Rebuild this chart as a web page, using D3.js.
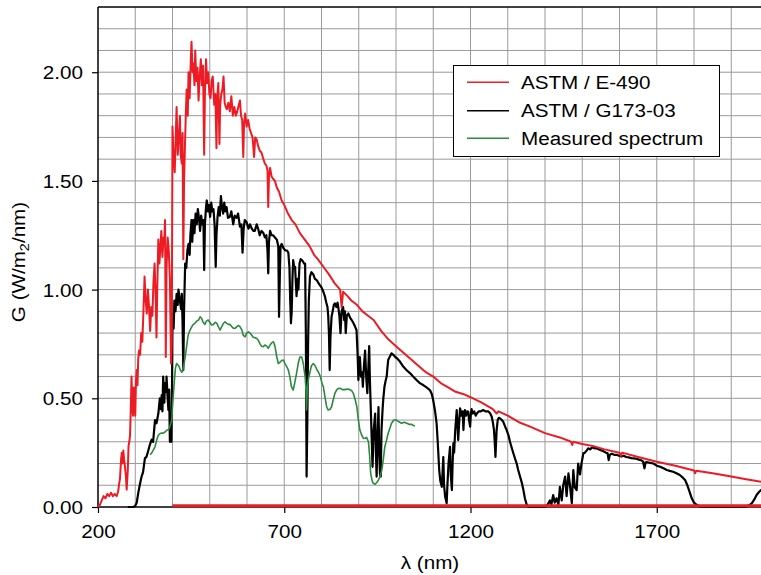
<!DOCTYPE html>
<html><head><meta charset="utf-8">
<script src="https://cdn.jsdelivr.net/npm/d3@7"></script>
<style>html,body{margin:0;padding:0;background:#fff;}svg{display:block;}</style>
</head><body>
<svg id="chart" width="761" height="575"></svg>
<script>
// ---- data (wavelength nm, irradiance W/m2/nm) ----
const xTicks = [200, 700, 1200, 1700];
const yTicks = [0, 0.5, 1.0, 1.5, 2.0];
const seriesNames = ["ASTM / E-490", "ASTM / G173-03", "Measured spectrum"];

const e490 = [[200,0.00],[205,0.01],[210,0.03],[215,0.05],[220,0.04],[225,0.06],[230,0.05],[235,0.065],[240,0.05],[245,0.06],[250,0.05],[254,0.07],[257,0.11],[259,0.13],[262,0.22],[264,0.25],[266,0.20],[268,0.26],[270,0.22],[272,0.19],[275,0.14],[277,0.08],[280,0.17],[282,0.28],[284,0.30],[286,0.33],[288,0.45],[290,0.60],[292,0.46],[294,0.42],[296,0.55],[298,0.50],[300,0.42],[302,0.58],[304,0.63],[306,0.56],[308,0.68],[310,0.72],[313,0.70],[316,0.80],[319,0.76],[322,0.90],[325,1.06],[328,0.95],[331,0.89],[334,1.00],[337,0.92],[340,0.81],[343,0.92],[346,0.88],[349,1.04],[352,1.12],[355,0.95],[357,0.78],[359,1.00],[362,1.23],[365,1.12],[367,1.18],[370,1.27],[373,1.15],[376,1.24],[378,1.22],[380,1.32],[382,0.69],[384,1.10],[387,1.24],[390,1.18],[393,1.05],[396,0.66],[398,0.75],[400,1.75],[403,1.60],[406,1.54],[409,1.72],[411,1.84],[414,1.62],[417,1.70],[420,1.80],[422,1.62],[425,1.58],[427,1.72],[429,1.14],[431,1.50],[434,1.70],[436,1.82],[438,1.92],[441,1.80],[443,2.00],[446,1.88],[449,2.05],[451,2.14],[454,2.00],[456,2.04],[459,1.94],[461,2.10],[464,1.96],[467,2.02],[470,1.87],[473,1.98],[476,2.06],[479,1.94],[482,2.03],[485,1.62],[487,1.90],[490,2.06],[493,1.95],[496,2.00],[499,1.90],[502,1.88],[505,1.96],[508,1.98],[512,1.85],[515,1.90],[518,1.65],[520,1.88],[523,1.95],[526,1.67],[528,1.85],[531,1.90],[534,1.92],[537,1.98],[540,1.86],[543,1.84],[546,1.83],[550,1.86],[554,1.82],[558,1.89],[562,1.80],[566,1.84],[570,1.80],[574,1.82],[578,1.85],[581,1.87],[584,1.80],[587,1.78],[590,1.61],[592,1.76],[595,1.81],[599,1.75],[603,1.78],[607,1.74],[611,1.72],[615,1.70],[619,1.61],[622,1.70],[626,1.69],[630,1.66],[634,1.64],[639,1.63],[644,1.60],[648,1.58],[652,1.57],[655,1.55],[657,1.38],[659,1.52],[662,1.56],[666,1.52],[670,1.51],[675,1.50],[680,1.47],[686,1.45],[693,1.41],[700,1.39],[710,1.35],[720,1.32],[730,1.30],[742,1.26],[755,1.23],[768,1.20],[780,1.16],[790,1.14],[805,1.105],[820,1.07],[835,1.03],[850,1.00],[854,0.92],[858,0.99],[870,0.97],[880,0.95],[895,0.93],[910,0.90],[925,0.88],[940,0.86],[960,0.81],[980,0.77],[1000,0.74],[1020,0.71],[1040,0.68],[1060,0.65],[1080,0.62],[1100,0.60],[1120,0.57],[1140,0.55],[1160,0.53],[1180,0.52],[1200,0.505],[1230,0.48],[1260,0.45],[1270,0.43],[1275,0.44],[1300,0.42],[1330,0.39],[1360,0.37],[1400,0.34],[1440,0.32],[1470,0.30],[1473,0.285],[1476,0.30],[1500,0.29],[1530,0.28],[1560,0.265],[1600,0.25],[1604,0.235],[1607,0.25],[1650,0.23],[1700,0.208],[1750,0.19],[1800,0.168],[1803,0.155],[1806,0.167],[1850,0.155],[1900,0.14],[1940,0.128],[1960,0.122],[1980,0.116],[2000,0.11]];

const e490Zero = [[400,0],[2000,0]];

const g173 = [[280,0],[295,0],[300,0.005],[304,0.02],[308,0.064],[312,0.10],[317,0.14],[321,0.16],[326,0.225],[330,0.23],[335,0.26],[339,0.285],[344,0.31],[348,0.30],[353,0.40],[357,0.385],[362,0.43],[366,0.50],[369,0.45],[371,0.515],[373,0.44],[375,0.60],[378,0.48],[380,0.57],[383,0.53],[384,0.60],[387,0.50],[389,0.446],[391,0.54],[393,0.30],[395,0.38],[397,0.30],[399,0.60],[400,0.89],[403,0.82],[405,0.95],[408,0.90],[411,0.98],[414,0.93],[416,1.00],[419,0.96],[423,0.91],[425,0.98],[427,0.85],[429,0.63],[431,0.90],[434,1.12],[437,1.10],[440,1.18],[443,1.21],[446,1.16],[448,1.25],[451,1.32],[453,1.22],[456,1.32],[459,1.26],[462,1.35],[465,1.30],[468,1.37],[471,1.33],[474,1.27],[477,1.34],[480,1.30],[483,1.32],[485,1.09],[487,1.30],[490,1.38],[492,1.41],[495,1.36],[498,1.39],[501,1.335],[504,1.40],[507,1.36],[510,1.37],[513,1.30],[516,1.105],[518,1.25],[521,1.335],[524,1.38],[527,1.34],[530,1.43],[533,1.38],[536,1.35],[539,1.40],[542,1.36],[545,1.38],[549,1.33],[554,1.335],[558,1.36],[563,1.30],[567,1.34],[572,1.33],[576,1.35],[581,1.29],[585,1.30],[588,1.17],[591,1.28],[594,1.32],[599,1.31],[604,1.28],[608,1.30],[613,1.28],[617,1.27],[621,1.27],[626,1.30],[630,1.28],[634,1.25],[639,1.27],[644,1.26],[648,1.24],[652,1.25],[655,1.18],[657,1.075],[659,1.22],[662,1.27],[666,1.25],[670,1.25],[675,1.24],[680,1.23],[684,1.20],[686,0.875],[688,1.05],[690,1.20],[693,1.21],[698,1.19],[703,1.18],[707,1.18],[711,1.17],[714,1.10],[716,0.95],[718,0.845],[720,0.90],[722,1.05],[724,1.136],[727,1.10],[729,1.105],[733,0.97],[736,1.05],[738,1.00],[741,1.12],[744,1.14],[747,1.136],[750,1.13],[753,1.12],[756,1.12],[758,0.80],[760,0.14],[762,0.40],[764,0.754],[766,0.95],[769,1.06],[773,1.08],[778,1.07],[782,1.05],[787,1.044],[792,1.03],[796,1.02],[800,1.01],[805,0.99],[809,0.97],[813,0.94],[816,0.92],[818,0.88],[820,0.80],[822,0.63],[824,0.78],[827,0.875],[830,0.90],[833,0.93],[836,0.937],[840,0.92],[843,0.94],[845,0.92],[848,0.88],[851,0.80],[854,0.90],[858,0.92],[861,0.86],[863,0.90],[865,0.80],[868,0.88],[872,0.89],[877,0.87],[881,0.86],[886,0.845],[890,0.83],[894,0.814],[897,0.70],[899,0.584],[901,0.65],[903,0.69],[906,0.60],[909,0.62],[911,0.553],[914,0.65],[917,0.72],[920,0.60],[923,0.524],[926,0.65],[928,0.74],[930,0.58],[933,0.415],[935,0.30],[937,0.185],[940,0.35],[944,0.43],[946,0.25],[948,0.14],[950,0.30],[953,0.46],[955,0.25],[957,0.15],[959,0.14],[961,0.35],[964,0.45],[966,0.50],[969,0.553],[972,0.58],[975,0.60],[977,0.64],[979,0.676],[983,0.69],[988,0.707],[993,0.70],[998,0.69],[1002,0.685],[1010,0.67],[1020,0.645],[1028,0.63],[1038,0.615],[1046,0.60],[1055,0.584],[1064,0.57],[1073,0.561],[1082,0.55],[1091,0.538],[1096,0.52],[1100,0.49],[1105,0.44],[1109,0.385],[1112,0.30],[1116,0.17],[1119,0.12],[1123,0.093],[1127,0.23],[1129,0.10],[1132,0.047],[1136,0.017],[1138,0.10],[1141,0.20],[1145,0.277],[1147,0.15],[1150,0.078],[1152,0.20],[1154,0.293],[1156,0.25],[1159,0.354],[1161,0.40],[1163,0.446],[1165,0.38],[1167,0.308],[1170,0.40],[1172,0.454],[1176,0.42],[1179,0.44],[1181,0.354],[1183,0.42],[1185,0.446],[1188,0.42],[1191,0.44],[1194,0.438],[1196,0.40],[1199,0.37],[1201,0.43],[1203,0.45],[1206,0.43],[1210,0.44],[1214,0.42],[1217,0.43],[1222,0.44],[1228,0.44],[1234,0.446],[1240,0.44],[1248,0.44],[1253,0.43],[1257,0.415],[1260,0.39],[1263,0.354],[1265,0.30],[1267,0.23],[1270,0.35],[1273,0.40],[1276,0.41],[1279,0.408],[1284,0.40],[1288,0.392],[1293,0.37],[1297,0.354],[1302,0.33],[1306,0.30],[1311,0.27],[1315,0.247],[1320,0.22],[1324,0.20],[1328,0.17],[1333,0.14],[1338,0.11],[1342,0.078],[1346,0.04],[1351,0.01],[1356,0],[1400,0],[1405,0.005],[1410,0.02],[1413,0.03],[1417,0.01],[1422,0.055],[1426,0.02],[1431,0.04],[1436,0.01],[1440,0.093],[1445,0.03],[1449,0.10],[1454,0.14],[1458,0.05],[1463,0.155],[1467,0.10],[1472,0.017],[1476,0.17],[1480,0.09],[1485,0.078],[1489,0.20],[1494,0.15],[1498,0.20],[1503,0.247],[1507,0.25],[1512,0.26],[1516,0.27],[1521,0.265],[1527,0.275],[1533,0.27],[1539,0.27],[1545,0.265],[1552,0.26],[1558,0.255],[1564,0.25],[1568,0.247],[1571,0.216],[1574,0.24],[1579,0.245],[1586,0.24],[1593,0.24],[1600,0.235],[1605,0.232],[1611,0.236],[1618,0.23],[1625,0.228],[1632,0.225],[1638,0.224],[1645,0.222],[1652,0.218],[1658,0.215],[1663,0.21],[1667,0.178],[1670,0.205],[1675,0.206],[1682,0.203],[1691,0.20],[1700,0.19],[1709,0.185],[1718,0.178],[1727,0.17],[1735,0.166],[1744,0.162],[1753,0.155],[1762,0.147],[1770,0.135],[1776,0.124],[1781,0.105],[1785,0.086],[1790,0.06],[1794,0.04],[1800,0.02],[1807,0.01],[1815,0.003],[1825,0],[1900,0],[1941,0.002],[1950,0.01],[1955,0.017],[1962,0.035],[1968,0.055],[1975,0.07],[1980,0.078],[1990,0.09],[2000,0.10]];

const measured = [[340,0.24],[344,0.248],[348,0.26],[353,0.277],[358,0.31],[362,0.33],[367,0.338],[371,0.34],[375,0.34],[380,0.345],[385,0.354],[389,0.354],[393,0.37],[398,0.40],[400,0.46],[402,0.51],[405,0.58],[408,0.64],[411,0.66],[414,0.655],[418,0.645],[421,0.63],[425,0.62],[428,0.63],[431,0.66],[434,0.69],[438,0.74],[442,0.79],[447,0.814],[452,0.83],[456,0.84],[460,0.845],[465,0.855],[470,0.86],[474,0.875],[478,0.868],[482,0.85],[487,0.84],[491,0.855],[496,0.86],[500,0.85],[505,0.837],[510,0.84],[515,0.85],[519,0.845],[523,0.83],[528,0.814],[532,0.83],[537,0.845],[541,0.852],[546,0.845],[550,0.84],[554,0.84],[559,0.83],[564,0.822],[568,0.822],[573,0.83],[577,0.835],[581,0.83],[586,0.815],[590,0.79],[595,0.783],[599,0.80],[604,0.806],[608,0.80],[613,0.79],[617,0.78],[621,0.78],[626,0.775],[630,0.768],[635,0.75],[639,0.74],[644,0.737],[648,0.745],[653,0.74],[657,0.73],[662,0.745],[666,0.755],[671,0.76],[675,0.74],[680,0.69],[684,0.66],[688,0.665],[693,0.674],[698,0.676],[702,0.66],[707,0.645],[711,0.63],[715,0.60],[719,0.555],[724,0.538],[728,0.57],[733,0.615],[738,0.665],[742,0.69],[747,0.69],[751,0.66],[756,0.60],[758,0.55],[760,0.446],[762,0.55],[765,0.59],[769,0.62],[773,0.65],[778,0.66],[783,0.65],[788,0.63],[792,0.62],[797,0.60],[801,0.57],[805,0.553],[810,0.50],[814,0.46],[818,0.446],[823,0.45],[827,0.46],[831,0.49],[836,0.523],[841,0.54],[845,0.545],[850,0.546],[856,0.54],[863,0.54],[870,0.543],[876,0.54],[881,0.535],[886,0.52],[891,0.49],[895,0.46],[899,0.40],[903,0.354],[908,0.33],[913,0.315],[917,0.316],[921,0.32],[926,0.30],[929,0.24],[932,0.155],[936,0.12],[939,0.109],[944,0.105],[950,0.116],[956,0.135],[962,0.17],[966,0.22],[970,0.277],[975,0.31],[979,0.339],[984,0.365],[988,0.385],[994,0.40],[1000,0.40],[1005,0.395],[1010,0.39],[1015,0.385],[1022,0.39],[1029,0.385],[1036,0.38],[1042,0.38],[1047,0.375],[1051,0.373]];

// ---- layout ----
const W = 761, H = 575;
const mLeft = 98, mTop = 7, mBottom = 507;
const colors = ["#ed1c24", "#000000", "#2b8a3e"];
const FONT = "'Liberation Sans', Arial, Helvetica, sans-serif";
const FS = 18.6, SX = 1.11;

const svg = d3.select("#chart");
const x = d3.scaleLinear().domain([200, 2000]).range([mLeft, mLeft + 1800 * 0.3725]);
const y = d3.scaleLinear().domain([0, 2.3]).range([mBottom, mTop]);

// grid
const grid = svg.append("g").attr("stroke", "#9a9a9a").attr("stroke-width", 1);
d3.range(300, 2000, 100).forEach(v => {
  grid.append("line").attr("x1", x(v)).attr("x2", x(v)).attr("y1", y(0)).attr("y2", y(2.3));
});
d3.range(1, 23).map(i => i / 10).forEach(v => {
  grid.append("line").attr("x1", x(200)).attr("x2", W).attr("y1", y(v)).attr("y2", y(v));
});

// frame
svg.append("line").attr("x1", x(200)).attr("x2", W).attr("y1", y(2.3)).attr("y2", y(2.3)).attr("stroke", "#000").attr("stroke-width", 1.5);

// axes
const yAxis = svg.append("g").attr("transform", `translate(${mLeft},0)`)
  .call(d3.axisLeft(y).tickValues(yTicks).tickSize(6).tickSizeOuter(0).tickFormat(d3.format(".2f")));
const xAxis = svg.append("g").attr("transform", `translate(0,${mBottom})`)
  .call(d3.axisBottom(x).tickValues(xTicks).tickSize(6).tickSizeOuter(0).tickFormat(d3.format("d")));
[yAxis, xAxis].forEach(a => {
  a.select(".domain").attr("stroke", "#000").attr("stroke-width", 1.5);
  a.selectAll(".tick line").attr("stroke", "#000").attr("stroke-width", 1.2);
  a.selectAll("text").attr("font-family", FONT).attr("font-size", FS).attr("fill", "#000");
});
xAxis.select(".domain").attr("d", `M${mLeft},0H${W}`);
yAxis.select(".domain").attr("d", `M0,${mBottom}V${mTop}`);
yAxis.selectAll(".tick text").attr("x", null).attr("dy", null)
  .attr("transform", `translate(-15,6.6) scale(${SX},1)`).attr("text-anchor", "end");
xAxis.selectAll(".tick text").attr("y", null).attr("dy", null)
  .attr("transform", `translate(0,31) scale(${SX},1)`).attr("text-anchor", "middle");

// lines
const line = d3.line().x(d => x(d[0])).y(d => y(d[1]));
const plot = svg.append("g");
plot.append("path").datum(g173).attr("d", line).attr("fill", "none")
  .attr("stroke", colors[1]).attr("stroke-width", 2.2).attr("stroke-linejoin", "round");
plot.append("path").datum(e490).attr("d", line).attr("fill", "none")
  .attr("stroke", colors[0]).attr("stroke-width", 2).attr("stroke-linejoin", "round");
plot.append("path").datum(e490Zero).attr("d", line).attr("fill", "none")
  .attr("stroke", colors[0]).attr("stroke-width", 3).attr("transform", "translate(0,-1.2)");
plot.append("path").datum(measured).attr("d", line).attr("fill", "none")
  .attr("stroke", colors[2]).attr("stroke-width", 1.6).attr("stroke-linejoin", "round");

// legend
const lg = svg.append("g");
lg.append("rect").attr("x", 453.5).attr("y", 65.5).attr("width", 266).attr("height", 91)
  .attr("fill", "#fff").attr("stroke", "#000").attr("stroke-width", 1);
const rowsY = [82.3, 110.7, 138.3];
seriesNames.forEach((n, i) => {
  lg.append("line").attr("x1", 467).attr("x2", 509).attr("y1", rowsY[i]).attr("y2", rowsY[i])
    .attr("stroke", colors[i]).attr("stroke-width", 1.6);
  lg.append("text").attr("transform", `translate(521,${rowsY[i] + 6.6}) scale(${SX},1)`)
    .attr("font-family", FONT).attr("font-size", FS).attr("fill", "#000").text(n);
});

// axis titles
svg.append("text").attr("transform", `translate(430,569) scale(${SX},1)`)
  .attr("text-anchor", "middle").attr("font-family", FONT).attr("font-size", FS).text("λ (nm)");
const yt = svg.append("text").attr("transform", `translate(25,262) rotate(-90) scale(${SX},1)`)
  .attr("text-anchor", "middle").attr("font-family", FONT).attr("font-size", FS);
yt.append("tspan").text("G (W/m");
yt.append("tspan").attr("font-size", FS * 0.7).attr("dy", 4).text("2");
yt.append("tspan").attr("dy", -4).text("/nm)");
</script>
</body></html>
